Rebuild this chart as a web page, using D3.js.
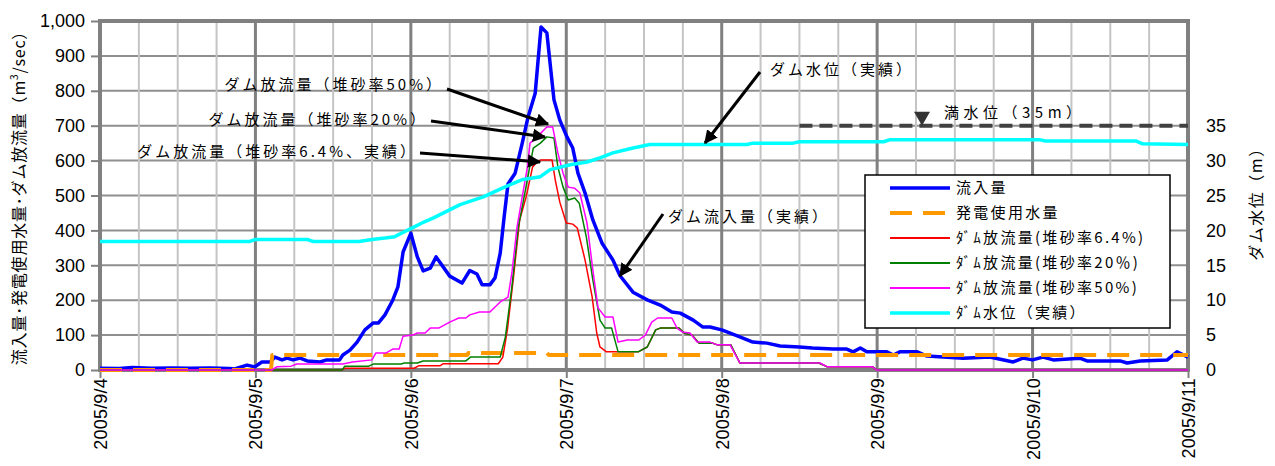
<!DOCTYPE html>
<html><head><meta charset="utf-8">
<script src="https://cdn.jsdelivr.net/npm/d3@7/dist/d3.min.js"></script>
<style>
body{margin:0;background:#fff;}
svg{display:block;}
.jp{font-family:"Noto Sans CJK JP","Noto Sans",sans-serif;}
.num{font-family:"Liberation Sans",Arial,sans-serif;}
</style></head>
<body>
<svg id="c" width="1275" height="466"></svg>
<script>
// ---- data (hours from 2005/9/4 0:00) ----
const dayLabels = ["2005/9/4","2005/9/5","2005/9/6","2005/9/7","2005/9/8","2005/9/9","2005/9/10","2005/9/11"];
const leftTicks = [0,100,200,300,400,500,600,700,800,900,1000];
const rightTicks = [0,5,10,15,20,25,30,35];

const inflowT = [0,3,5,8,11,14,17,20,20.8,22.7,23.9,25,26.3,27,28.1,28.9,29.8,30.9,32,34,35,37,37.5,38.6,39.7,40.9,42.2,43,44,45.2,46,46.8,48,49,49.9,51,51.9,54,55.9,57.1,58.2,59,60.2,61,61.8,62.4,63,64.1,65.2,66.1,67.2,68.1,69,70.1,71,72.1,73,73.8,74.9,76.1,77.5,79.2,80.3,82.3,84.5,86.5,88.3,89.6,91.6,93.1,94.2,96,98.8,100.8,103,105,108,110,113.2,115.3,116.3,117.4,118.4,121.5,122.5,123.5,126.2,127.7,133.3,137.4,141,142.5,144,145.6,147.2,151.3,152.4,157.5,158.6,160.6,164.8,166.3,168];
const inflowV = [5,4,7,5,6,5,6,4,3,14,9,23,23,37,29,34,29,34,26,23,29,29,43,57,80,115,135,135,158,200,238,338,392,324,284,292,324,269,249,285,275,244,244,264,335,438,533,564,650,725,793,983,966,774,716,668,636,564,507,430,364,315,270,223,201,186,166,163,143,123,123,115,95,80,77,69,66,63,60,60,52,63,52,52,43,52,52,40,34,37,23,34,29,37,29,34,26,26,20,26,29,52,37];

const powerT = [0,26.4,26.6,56.7,56.9,69,69.3,168];
const powerV = [0,0,43,43,49,49,43,43];

const red64T = [0,37.4,37.8,48.5,49.2,52.5,53,61.5,62.2,62.9,63.8,64.8,65.8,66.8,67.5,68.1,69.8,70.3,71,72,73,73.7,74.9,76,76.7,77.2,78.2,83.1,84.5,85.8,86.5,89.4,90.2,91.4,92.5,94.6,95.3,97.4,98.8,111,112.3,119.3,120,168];
const red64V = [0,0,5,5,12,12,18,18,37,115,258,430,496,582,596,602,602,544,481,421,418,407,315,209,106,66,52,52,66,115,120,120,106,100,77,77,72,72,20,20,9,9,0,0];

const green20T = [0,37.4,37.8,41.5,42.2,46.5,47,49,49.9,56.5,57.2,61.8,62.6,63.6,64.6,65.6,66.9,68,69,70.1,70.7,71.5,72.3,73.3,74,75.1,76.1,77.2,78,79,80,83.1,84.5,85.8,86.5,89.4,90.2,91.4,92.5,94.6,95.3,97.4,98.8,111,112.3,119.3,120,168];
const green20V = [0,0,11,11,17,17,20,20,26,26,37,37,95,238,410,507,636,650,668,665,582,524,487,493,478,381,258,143,120,120,52,52,66,115,120,120,106,100,77,77,72,72,20,20,9,9,0,0];

const pink50T = [0,26.5,27.3,29.5,30.4,37.5,39,42,42.6,44.2,45.2,46.2,46.8,48.3,49,50.2,51,52.3,54,55.4,56.5,57.1,58.6,60.2,61.8,63,63.6,64.4,65.2,66,66.4,67.5,69,69.9,70.7,71.5,72.3,73.3,74.1,75.2,76.1,76.9,78,79.2,80,81.4,83.2,84.2,85.2,86.1,88.3,89.1,89.9,91.1,92.2,94.2,95.3,97.3,98.8,111.2,112.3,119.3,119.9,168];
const pink50V = [0,0,9,11,17,17,23,29,49,49,60,60,97,100,106,106,120,120,137,149,149,158,166,166,195,209,278,410,496,582,650,668,696,696,622,564,524,521,507,421,287,178,152,152,80,86,86,100,137,149,149,120,109,106,80,80,72,72,20,20,9,9,0,0];

const levelT = [0,23,24,32,33,40,42,44,45.5,47,48.3,50,51.5,55.6,59.2,62.2,65.3,68,69.5,72.6,75.2,77.2,79.2,82.3,84.9,99.9,100.8,107,108,121,122,145,146,160,161,168];
const levelV = [18.4,18.4,18.7,18.7,18.4,18.4,18.7,18.9,19.1,19.8,20.4,21.2,21.8,23.7,24.8,26.1,27.3,27.7,28.7,29.4,29.8,30.4,31.1,31.8,32.3,32.3,32.5,32.5,32.7,32.7,33.0,33.0,32.8,32.8,32.4,32.3];

const fullLevel = 35;
const fullLevelStart = 108; // hours

const legendLabels = ["流入量","発電使用水量","ﾀﾞﾑ放流量(堆砂率6.4%)","ﾀﾞﾑ放流量(堆砂率20％)","ﾀﾞﾑ放流量(堆砂率50%)","ﾀﾞﾑ水位（実績）"];

// ---- layout ----
const L=100,R=1188,T=21,B=370;
const svg=d3.select("#c");
const x=d3.scaleLinear().domain([0,168]).range([L,R]);
const yL=d3.scaleLinear().domain([0,1000]).range([B,T]);
const yR=d3.scaleLinear().domain([0,50]).range([B,T]);

// grid
const g=svg.append("g");
g.selectAll(".hg").data(d3.range(100,1000,100)).join("line")
  .attr("x1",L).attr("x2",R).attr("y1",d=>yL(d)).attr("y2",d=>yL(d))
  .attr("stroke","#8f8f8f").attr("stroke-width",2);
g.selectAll(".vm").data(d3.range(6,168,6).filter(h=>h%24!==0)).join("line")
  .attr("x1",d=>x(d)).attr("x2",d=>x(d)).attr("y1",T).attr("y2",B)
  .attr("stroke","#c4c4c4").attr("stroke-width",2);
g.selectAll(".vM").data(d3.range(24,168,24)).join("line")
  .attr("x1",d=>x(d)).attr("x2",d=>x(d)).attr("y1",T).attr("y2",B)
  .attr("stroke","#808080").attr("stroke-width",3);

// frame
svg.append("rect").attr("x",L).attr("y",T).attr("width",R-L).attr("height",B-T)
  .attr("fill","none").attr("stroke","#808080").attr("stroke-width",4);

// axes
const ax=svg.append("g").attr("transform",`translate(${L-2},0)`)
  .call(d3.axisLeft(yL).tickValues(leftTicks).tickFormat(d3.format(",")).tickSize(7).tickPadding(6));
ax.select(".domain").remove();
ax.selectAll("line").attr("stroke","#808080").attr("stroke-width",2);
ax.selectAll("text").attr("class","num").attr("font-size",18).attr("fill","#000");

const axr=svg.append("g").attr("transform",`translate(${R},0)`)
  .call(d3.axisRight(yR).tickValues(rightTicks).tickSize(0).tickPadding(18));
axr.select(".domain").remove();
axr.selectAll("text").attr("class","num").attr("font-size",18).attr("fill","#000");

const axb=svg.append("g").attr("transform",`translate(0,${B+2})`)
  .call(d3.axisBottom(x).tickValues(d3.range(0,169,24)).tickFormat((d,i)=>dayLabels[i]).tickSize(6));
axb.select(".domain").remove();
axb.selectAll("line").attr("stroke","#808080").attr("stroke-width",2);
axb.selectAll("text").attr("class","num").attr("font-size",18).attr("fill","#000")
  .attr("letter-spacing","0.2px")
  .attr("transform","rotate(-90)").attr("text-anchor","end")
  .attr("x",-6).attr("y",0).attr("dy","0.36em");

// lines
const mk=(ys)=>d3.line().x(d=>x(d[0])).y(d=>ys(d[1]));
const zip=(a,b)=>a.map((t,i)=>[t,b[i]]);
const plot=(t,v,ys,color,w,dash)=>svg.append("path").datum(zip(t,v)).attr("d",mk(ys))
  .attr("fill","none").attr("stroke",color).attr("stroke-width",w)
  .attr("stroke-dasharray",dash||null).attr("stroke-linejoin","round");
plot(inflowT,inflowV,yL,"#0000ff",3.5);
plot(powerT,powerV,yL,"#ff9900",4,"22 11");
plot(red64T,red64V,yL,"#ff0000",1.5);
plot(green20T,green20V,yL,"#008000",1.5);
plot(pink50T,pink50V,yL,"#ff00ff",1.5);
plot(levelT,levelV,yR,"#00ffff",3.5);

// full water level
svg.append("line").attr("x1",x(fullLevelStart)).attr("x2",R).attr("y1",yR(fullLevel)).attr("y2",yR(fullLevel))
  .attr("stroke","#404040").attr("stroke-width",4).attr("stroke-dasharray","13 7");
const tx=922, ty=yR(fullLevel);
svg.append("path").attr("d",`M${tx-8},${ty-14}L${tx+8},${ty-14}L${tx},${ty}Z`).attr("fill","#333");
svg.append("text").attr("class","jp").attr("x",944).attr("y",113).attr("dy","0.35em")
  .attr("font-size",15).attr("letter-spacing","4.5px").text("満水位（35m）");

// annotations
const defs=svg.append("defs");
defs.append("marker").attr("id","ah").attr("viewBox","0 0 10 10").attr("refX",9).attr("refY",5)
  .attr("markerWidth",4.5).attr("markerHeight",4.5).attr("orient","auto")
  .append("path").attr("d","M0,0L10,5L0,10Z").attr("fill","#000");
const ann=[
  {t:"ダム放流量（堆砂率50%）",tx:444,ty:85,a:"end",x1:447,y1:89,x2:548,y2:124},
  {t:"ダム放流量（堆砂率20%）",tx:428,ty:120,a:"end",x1:431,y1:121,x2:545,y2:137},
  {t:"ダム放流量（堆砂率6.4%、実績）",tx:418,ty:152,a:"end",x1:420,y1:153,x2:540,y2:162},
  {t:"ダム流入量（実績）",tx:668,ty:217,a:"start",x1:663,y1:214,x2:620,y2:276},
  {t:"ダム水位（実績）",tx:770,ty:70,a:"start",x1:760,y1:72,x2:705,y2:143}
];
ann.forEach(d=>{
  svg.append("line").attr("x1",d.x1).attr("y1",d.y1).attr("x2",d.x2).attr("y2",d.y2)
    .attr("stroke","#000").attr("stroke-width",3).attr("marker-end","url(#ah)");
  svg.append("text").attr("class","jp").attr("x",d.tx).attr("y",d.ty).attr("dy","0.35em")
    .attr("text-anchor",d.a).attr("font-size",15).attr("letter-spacing","3px").text(d.t);
});

// legend
const lg=svg.append("g");
lg.append("rect").attr("x",865).attr("y",175).attr("width",305).attr("height",153)
  .attr("fill","#fff").attr("stroke","#000").attr("stroke-width",1.5);
const lstyle=[["#0000ff",3.5,null],["#ff9900",4,"22 11"],["#ff0000",2,null],["#008000",2,null],["#ff00ff",2,null],["#00ffff",3.5,null]];
legendLabels.forEach((s,i)=>{
  const yy=188+i*25;
  lg.append("line").attr("x1",890).attr("x2",950).attr("y1",yy).attr("y2",yy)
    .attr("stroke",lstyle[i][0]).attr("stroke-width",lstyle[i][1]).attr("stroke-dasharray",lstyle[i][2]);
  lg.append("text").attr("class","jp").attr("x",956).attr("y",yy).attr("dy","0.35em")
    .attr("font-size",15).attr("letter-spacing","2.3px").text(s);
});

// axis titles
const t1=svg.append("text").attr("class","jp").attr("font-size",16)
  .attr("transform","translate(25,194) rotate(-90)").attr("text-anchor","middle").attr("letter-spacing","0.8px");
t1.append("tspan").text("流入量･発電使用水量･ダム放流量（m");
t1.append("tspan").attr("font-size",10).attr("dy",-7).text("3");
t1.append("tspan").attr("dy",7).text("/sec）");
svg.append("text").attr("class","jp").attr("font-size",16)
  .attr("transform","translate(1262,200) rotate(-90)").attr("text-anchor","middle").attr("letter-spacing","1.5px")
  .text("ダム水位（m）");
</script>
</body></html>
